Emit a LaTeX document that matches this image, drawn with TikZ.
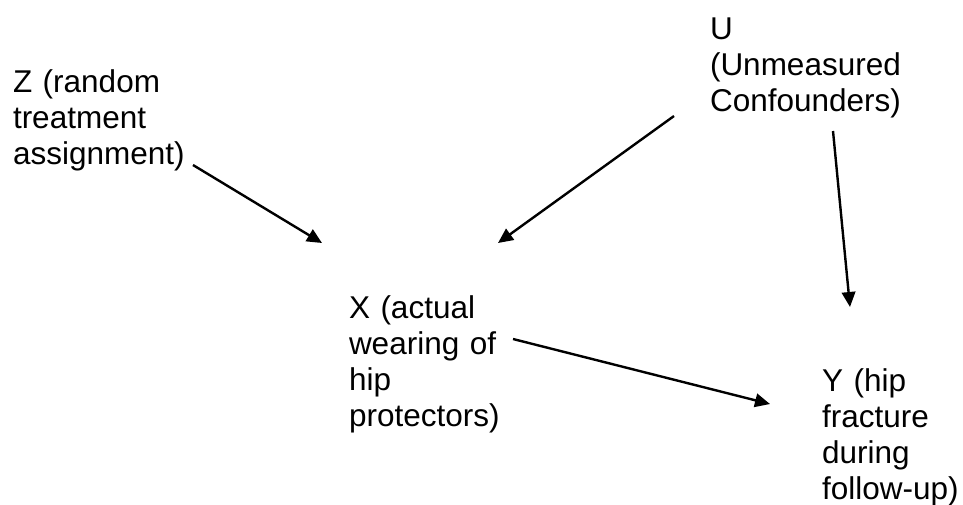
\documentclass[tikz,border=0pt]{standalone}
\usepackage{fontspec}
\setmainfont{Liberation Sans}
\usetikzlibrary{arrows.meta}
\tikzset{
  lbl/.style={anchor=base west, inner sep=0pt, outer sep=0pt, text width=260pt, align=left,
    font=\fontsize{31.5}{36}\selectfont},
  arr/.style={line width=2.4pt, -{Triangle[length=15pt,width=13.5pt]}}
}
\begin{document}
\begin{tikzpicture}[x=1pt,y=-1pt]
\useasboundingbox (0,0) rectangle (963,504);
\node[lbl] (Z) at (13,92) {Z (random\\treatment\\assignment)};
\node[lbl] (U) at (710,39) {U\\(Unmeasured\\Confounders)};
\node[lbl] (X) at (349,318) {X (actual\\wearing of\\hip\\protectors)};
\node[lbl] (Y) at (822,391) {Y (hip\\fracture\\during\\follow-up)};
\coordinate (zs) at (193,165);
\coordinate (ze) at (322,243);
\coordinate (us1) at (674,116);
\coordinate (ue1) at (498,243);
\coordinate (us2) at (833,131);
\coordinate (ue2) at (850,307);
\coordinate (xs) at (513,339);
\coordinate (xe) at (770,404);
\draw[arr] (zs) -- (ze);
\draw[arr] (us1) -- (ue1);
\draw[arr] (us2) -- (ue2);
\draw[arr] (xs) -- (xe);
\end{tikzpicture}
\end{document}
